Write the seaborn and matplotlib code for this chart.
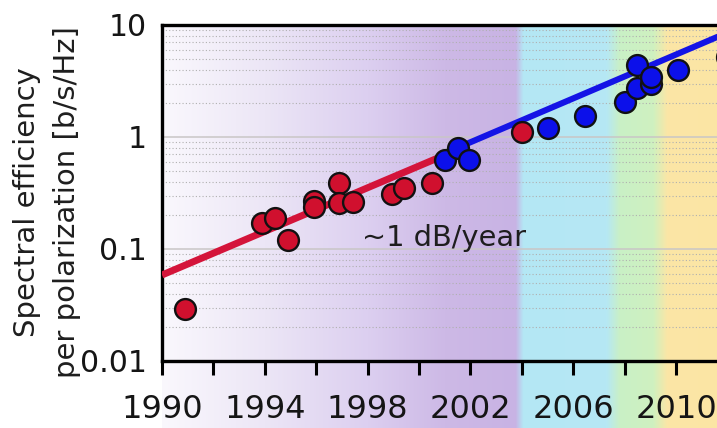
import numpy as np
import pandas as pd
import matplotlib
matplotlib.use("Agg")
import matplotlib.pyplot as plt
import seaborn as sns
from matplotlib.ticker import FixedLocator, FixedFormatter, NullFormatter, LogLocator

# Record transmission experiments: earlier results (red) and recent ones (blue)
red_years = [1990.9, 1993.9, 1994.4, 1994.9, 1995.9, 1995.9, 1996.9, 1996.9,
             1997.45, 1998.95, 1999.4, 2000.5, 2004.0]
red_eff = [0.029, 0.17, 0.19, 0.12, 0.27, 0.235, 0.39, 0.26,
           0.265, 0.31, 0.35, 0.39, 1.10]
blue_years = [2001.0, 2001.5, 2001.95, 2005.0, 2006.45, 2008.0, 2008.5,
              2008.5, 2009.03, 2009.03, 2010.07, 2011.98]
blue_eff = [0.62, 0.79, 0.62, 1.21, 1.55, 2.04, 4.4,
            2.72, 3.0, 3.4, 3.96, 5.2]

# Trend lines (~1 dB/year growth)
trend_red_years = [1990.0, 2000.7]
trend_red_eff = [0.0586, 0.645]
trend_blue_years = [2001.6, 2012.0]
trend_blue_eff = [0.82, 8.55]

year_ticks = [1990, 1994, 1998, 2002, 2006, 2010]
year_minor = [1992, 1996, 2000, 2004, 2008]
eff_ticks = [0.01, 0.1, 1, 10]
eff_labels = ["0.01", "0.1", "1", "10"]

# Background colour bands along the year axis
band_years = [1990.0, 1994.0, 1998.0, 2001.0, 2003.75, 2004.05, 2007.3, 2007.8,
              2009.1, 2009.65, 2012.0]
band_colors = ["#faf8fd", "#ece6f6", "#dccff0", "#cdb9e6", "#c8b3e4", "#b4e7f5",
               "#b6e8f4", "#c9f0c6", "#cff1c0", "#fbe6a6", "#fce5a4"]

red_df = pd.DataFrame({"year": red_years, "eff": red_eff})
blue_df = pd.DataFrame({"year": blue_years, "eff": blue_eff})
tr_df = pd.DataFrame({"year": trend_red_years, "eff": trend_red_eff})
tb_df = pd.DataFrame({"year": trend_blue_years, "eff": trend_blue_eff})

sns.set_style("white")
plt.rcParams["font.family"] = ["DejaVu Sans"]

W, H = 717, 428
fig = plt.figure(figsize=(W / 100, H / 100), dpi=100)
fig.patch.set_facecolor("white")

x0, x1 = 1990.0, 2012.0
px_per_year = 25.7
ax_left = 162 / W
ax_width = (x1 - x0) * px_per_year / W
ax_bottom = (H - 361) / H
ax_top = (H - 25) / H

# gradient background
bg = fig.add_axes([ax_left, 0, ax_width, ax_top], zorder=0)
xs = np.linspace(x0, x1, 1200)
rgb = np.array([matplotlib.colors.to_rgb(c) for c in band_colors])
img = np.stack([np.interp(xs, band_years, rgb[:, k]) for k in range(3)], axis=-1)
bg.imshow(img[np.newaxis, :, :], extent=[x0, x1, 0, 1], aspect="auto",
          interpolation="bilinear")
bg.set_xlim(x0, x1)
bg.set_ylim(0, 1)
bg.set_axis_off()

ax = fig.add_axes([ax_left, ax_bottom, ax_width, ax_top - ax_bottom], zorder=1)
ax.set_facecolor("none")
ax.set_yscale("log")
ax.set_xlim(x0, x1)
ax.set_ylim(0.01, 10)

sns.lineplot(data=tr_df, x="year", y="eff", ax=ax, color="#d4143a", lw=5.0,
             solid_capstyle="butt", zorder=3)
sns.lineplot(data=tb_df, x="year", y="eff", ax=ax, color="#1414e6", lw=4.4,
             solid_capstyle="butt", zorder=3)
sns.scatterplot(data=red_df, x="year", y="eff", ax=ax, color="#d0102e", s=225,
                edgecolor="#111111", linewidth=1.7, zorder=4, clip_on=False)
sns.scatterplot(data=blue_df, x="year", y="eff", ax=ax, color="#0c10ea", s=225,
                edgecolor="#111111", linewidth=1.7, zorder=4, clip_on=False)

ax.text(1997.8, 0.107, "~1 dB/year", fontsize=20.8, color="#1e1e1e",
        ha="left", va="baseline", zorder=5)

# axes ticks
ax.xaxis.set_major_locator(FixedLocator(year_ticks))
ax.xaxis.set_minor_locator(FixedLocator(year_minor))
ax.xaxis.set_major_formatter(FixedFormatter([str(y) for y in year_ticks]))
ax.yaxis.set_major_locator(FixedLocator(eff_ticks))
ax.yaxis.set_major_formatter(FixedFormatter(eff_labels))
ax.yaxis.set_minor_locator(LogLocator(base=10, subs=np.arange(2, 10)))
ax.yaxis.set_minor_formatter(NullFormatter())
ax.tick_params(axis="x", which="both", direction="out", length=10, width=2.2,
               color="black", pad=14, labelsize=23, bottom=True,
               labelcolor="#151515")
ax.tick_params(axis="y", which="both", length=0, pad=11, labelsize=21.5, left=True,
               labelcolor="#151515")
ax.set_xlabel("")
ax.set_ylabel("")

ax.grid(which="major", axis="y", color="#c9c6c6", lw=1.1, ls="-", zorder=0)
ax.grid(which="minor", axis="y", color="#b0b0b0", lw=0.8, ls=(0, (1, 2)), zorder=0)
ax.grid(which="both", axis="x", visible=False)
ax.set_axisbelow(True)

for side in ["left", "bottom", "top"]:
    ax.spines[side].set_visible(True)
    ax.spines[side].set_color("black")
    ax.spines[side].set_linewidth(2.4)
ax.spines["right"].set_visible(False)

fig.text(47 / W, 1 - 202 / H, "Spectral efficiency\nper polarization [b/s/Hz]",
         rotation=90, ha="center", va="center", fontsize=21, linespacing=1.55,
         color="#1e1e1e", multialignment="center")

fig.savefig("out.png", dpi=100)
